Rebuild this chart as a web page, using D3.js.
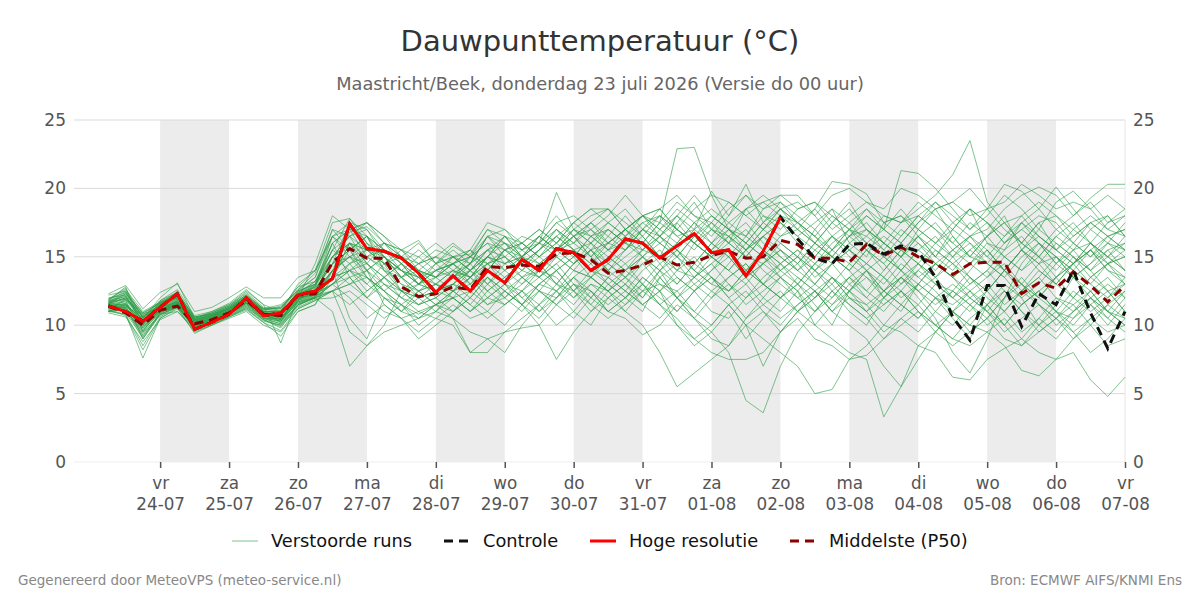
<!DOCTYPE html>
<html><head><meta charset="utf-8">
<script src="https://cdn.jsdelivr.net/npm/d3@7"></script>
<style>
body{margin:0;background:#fff;}
svg{display:block;font-family:"DejaVu Sans",sans-serif;}
</style></head><body>
<svg id="chart" width="1200" height="600"></svg>
<script>
// ---------- DATA ----------
const dayLabels = ["vr","za","zo","ma","di","wo","do","vr","za","zo","ma","di","wo","do","vr"];
const dateLabels = ["24-07","25-07","26-07","27-07","28-07","29-07","30-07","31-07","01-08","02-08","03-08","04-08","05-08","06-08","07-08"];
const yTicks = [0,5,10,15,20,25];
const startTime = "2026-07-23T06:00:00Z"; // first forecast step, 6-hourly

const hres = [11.4,11.0,10.3,11.3,12.3,9.7,10.2,10.8,12.0,10.7,
  10.9,12.2,12.5,13.4,17.4,15.6,15.4,14.9,13.8,12.4,
  13.6,12.5,14.0,13.1,14.8,14.0,15.6,15.3,14.0,14.8,
  16.3,16.0,14.9,15.8,16.7,15.3,15.5,13.6,15.4,17.9];

const control = [11.4,11.0,10.3,11.3,12.3,9.7,10.2,10.8,12.0,10.7,
  10.9,12.2,12.5,13.4,17.4,15.6,15.4,14.9,13.8,12.4,
  13.6,12.5,14.0,13.1,14.8,14.0,15.6,15.3,14.0,14.8,
  16.3,16.0,14.9,15.8,16.7,15.3,15.5,13.6,15.4,17.9,
  16.3,14.9,14.5,15.9,16.0,15.2,15.8,15.4,13.5,10.6,
  8.9,12.9,12.9,9.9,12.3,11.5,14.0,10.9,8.3,11.0];

const p50 = [11.4,10.9,10.0,11.1,11.4,10.1,10.4,10.9,11.8,10.8,
  10.7,12.2,12.3,14.6,15.6,14.9,14.9,12.8,12.1,12.3,
  12.8,12.6,14.3,14.2,14.4,14.3,15.2,15.3,14.8,13.8,
  14.0,14.4,15.0,14.4,14.6,15.1,15.4,14.9,15.0,16.2,
  15.9,14.9,14.9,14.6,15.9,15.1,15.7,15.0,14.5,13.7,
  14.5,14.6,14.6,12.3,13.1,12.7,13.9,12.9,11.7,12.9];

const members = [
 [11.8,12.8,9.5,11.5,12.5,10.2,10.6,11.3,12.2,11.0, 10.2,12.5,13.0,15.5,17.8,16.0,15.0,13.5,12.0,12.5, 13.8,14.5,16.5,15.0,14.0,15.5,17.0,16.0,15.0,16.5, 18.0,16.5,15.0,17.5,19.0,17.0,16.0,18.5,17.0,16.0, 15.0,17.0,18.5,16.0,15.0,17.5,18.0,16.5,15.0,17.0, 18.5,16.0,15.5,17.5,16.0,14.5,16.0,17.5,16.5,15.5],
 [11.0,10.8,7.6,10.5,11.2,9.5,10.0,10.5,11.0,10.0, 9.5,11.0,11.5,14.0,10.5,9.0,12.0,11.5,10.0,11.0, 10.5,9.5,9.0,8.0,10.0,11.5,12.5,11.0,10.0,12.0, 13.0,11.5,12.5,10.0,8.5,9.5,11.0,9.0,10.5,12.0, 13.0,11.5,10.0,12.5,14.0,12.0,11.0,13.0,12.0,10.5, 9.0,11.5,13.0,12.0,10.0,11.5,13.5,12.0,10.5,12.0],
 [12.2,12.5,10.5,12.0,13.1,10.5,11.0,11.5,12.5,11.5, 11.0,13.0,14.0,16.5,17.0,17.5,16.0,15.5,14.0,13.5, 15.0,15.2,17.0,16.5,15.5,16.0,19.7,17.0,16.5,17.5, 18.5,17.0,16.5,18.0,17.0,19.8,18.0,20.3,17.5,16.5, 17.0,16.0,17.5,19.0,17.0,16.0,15.0,17.0,18.5,16.5, 15.0,16.5,18.0,15.5,14.5,16.0,15.0,14.0,15.5,16.0],
 [11.5,11.2,10.2,11.0,11.5,10.0,10.4,10.8,11.6,10.6, 10.8,12.0,12.8,13.5,16.0,15.0,14.2,13.0,12.5,13.0, 12.0,13.5,15.0,14.5,15.0,16.5,15.5,14.5,15.5,16.0, 17.0,18.0,17.5,22.9,23.0,19.5,17.0,16.5,18.5,19.0, 17.5,16.0,15.0,16.5,17.0,15.5,14.0,15.5,16.5,15.0, 13.5,12.5,14.0,15.5,17.0,16.0,15.0,13.5,14.5,15.0],
 [11.2,11.8,9.0,10.8,11.0,9.8,10.2,10.7,11.2,10.3, 10.0,11.5,12.0,13.0,14.0,13.5,12.5,11.0,10.5,11.5, 12.0,11.0,12.5,13.5,12.0,13.0,14.0,12.5,11.5,13.0, 12.0,11.0,13.5,12.0,10.5,9.5,8.0,4.5,3.6,7.0, 9.5,11.0,12.5,11.0,10.0,12.0,13.5,12.5,11.0,10.0, 11.5,12.5,11.0,9.5,10.5,12.0,11.5,10.0,11.5,12.5],
 [11.6,12.0,10.8,11.4,12.0,10.4,10.8,11.2,12.0,11.2, 11.5,12.5,13.5,17.0,16.5,14.5,13.0,12.0,11.5,12.0, 13.0,12.5,14.0,13.0,12.5,14.0,13.5,12.0,13.0,12.5, 11.0,10.0,8.0,5.5,6.5,7.5,8.5,10.5,12.0,13.5, 12.5,11.0,12.0,13.5,12.0,11.0,12.5,14.0,13.0,12.5, 14.0,15.5,14.0,12.5,13.5,15.0,14.0,13.0,14.5,13.5],
 [11.3,11.0,9.8,11.1,11.8,9.9,10.3,11.0,11.9,10.9, 10.5,12.0,12.5,14.5,15.5,16.5,14.0,13.0,12.0,11.0, 12.5,13.0,11.5,12.0,13.5,14.5,13.0,14.5,15.5,14.0, 15.0,16.0,14.5,13.0,14.5,16.0,15.0,13.5,12.0,11.0, 12.5,10.0,9.0,8.0,7.5,3.3,5.5,7.5,9.5,11.0, 10.0,11.5,12.5,11.0,9.5,10.5,12.0,13.5,12.5,11.0],
 [12.0,12.2,10.0,11.8,12.4,10.6,10.8,11.4,12.4,11.3, 11.2,12.8,13.2,15.0,16.5,15.5,15.0,14.0,13.5,14.0, 14.5,15.0,14.0,15.5,16.0,15.0,16.5,15.5,14.5,15.5, 16.5,15.0,16.0,17.0,16.0,15.0,16.5,17.5,16.0,15.0, 14.0,15.5,16.5,15.0,14.0,13.0,14.5,13.5,12.5,11.0, 10.0,9.5,10.5,9.0,8.0,7.5,8.0,6.0,4.8,6.2],
 [11.0,11.5,10.4,11.0,11.3,10.0,10.4,10.8,11.5,10.5, 10.3,11.6,12.0,14.0,15.0,15.5,14.5,12.5,12.0,12.5, 13.0,14.0,15.5,16.5,15.0,14.5,15.5,16.5,17.5,16.0, 15.5,17.0,16.0,15.0,16.5,18.0,17.0,16.0,17.5,18.5, 17.0,16.0,17.5,18.5,17.0,16.0,17.5,18.0,19.0,17.5, 16.5,17.0,18.5,19.5,20.1,19.5,18.0,19.3,20.3,20.3],
 [11.7,12.4,10.6,11.6,12.2,10.3,10.7,11.2,12.0,11.0, 11.0,12.2,13.0,16.0,17.0,16.5,15.5,14.5,13.0,13.5, 14.0,13.5,15.0,14.0,15.0,16.0,15.5,16.5,17.0,15.5, 16.0,17.5,18.0,16.5,17.0,16.0,17.5,18.5,19.0,18.0, 17.0,18.5,20.5,20.3,19.6,17.5,18.0,17.0,16.0,15.0, 16.5,15.5,14.0,15.5,14.5,13.0,14.5,15.5,14.0,13.5],
 [11.1,10.8,8.5,10.6,11.4,9.7,10.1,10.6,11.3,10.4, 9.8,11.5,12.0,13.0,13.5,14.0,15.0,13.5,12.5,11.5, 12.5,11.5,13.0,12.0,11.0,12.5,11.5,13.0,12.5,11.0, 12.0,13.0,11.5,10.5,9.0,10.0,11.5,10.0,9.0,8.0, 7.0,5.0,5.3,7.5,8.5,10.0,11.5,10.5,12.0,11.0, 9.5,10.5,12.0,13.5,12.0,11.0,12.5,11.5,10.0,11.5],
 [11.9,12.6,11.0,11.7,12.1,10.5,10.9,11.5,12.3,11.2, 11.3,12.4,13.2,15.5,14.5,13.0,14.5,15.0,14.0,13.0, 14.0,13.0,14.5,15.0,13.5,14.0,15.0,14.0,13.5,15.0, 14.0,13.0,14.5,15.5,14.0,13.0,12.5,14.0,15.5,14.5, 13.5,12.5,11.0,12.0,11.5,10.0,9.5,8.5,8.0,6.2, 6.0,7.5,8.3,9.0,10.5,9.5,11.0,12.0,11.0,10.0],
 [11.4,11.3,9.2,10.9,11.6,10.1,10.5,11.0,11.7,10.7, 10.4,11.8,12.6,14.5,17.5,17.0,15.5,14.0,13.0,14.0, 15.0,15.5,17.5,17.0,16.0,15.0,16.0,17.0,18.0,18.5, 17.0,16.0,17.5,19.0,18.0,17.0,18.5,19.5,18.0,17.0, 18.5,19.0,17.5,16.5,18.0,17.0,21.3,21.1,20.0,18.5, 17.0,18.5,17.0,16.0,17.5,18.0,16.5,17.5,18.0,16.5],
 [11.2,11.9,10.8,11.3,11.9,10.3,10.6,11.1,11.9,10.9, 10.7,12.1,12.4,14.0,15.0,14.5,16.0,15.5,16.2,14.5, 15.0,14.0,15.5,16.0,15.5,16.5,15.5,16.0,17.0,16.0, 17.0,18.0,16.5,17.5,16.0,17.0,16.5,15.5,17.0,18.0, 17.5,16.5,18.0,17.0,16.5,18.0,17.5,18.5,19.5,21.0, 23.5,19.0,17.5,16.0,17.5,15.5,14.5,16.0,15.0,14.0],
 [11.6,11.4,9.6,11.0,11.5,9.9,10.3,10.9,11.8,10.7, 10.9,12.0,12.2,12.5,11.5,12.5,13.5,12.0,11.0,10.5, 10.0,8.0,8.0,9.5,10.5,11.5,10.0,11.0,12.5,11.0, 10.5,9.3,10.0,11.5,10.5,12.0,13.0,11.5,12.5,13.5, 12.0,13.0,14.5,13.0,12.0,13.5,12.5,11.5,13.0,12.0, 11.0,12.5,14.0,13.0,12.0,13.5,15.0,14.0,12.5,13.0],
 [11.5,11.7,10.1,11.3,11.7,10.2,10.6,11.0,11.7,10.8, 10.6,11.9,12.3,13.5,14.0,13.0,12.0,11.0,12.5,13.0, 12.5,13.5,12.0,13.0,11.5,10.0,7.5,9.5,11.0,12.5, 13.5,12.0,14.0,15.5,14.0,13.0,14.5,16.0,15.0,13.5, 14.5,16.0,15.0,14.0,15.5,14.5,13.0,14.0,15.5,14.5, 13.0,14.0,15.5,16.5,15.0,14.0,15.5,16.0,14.5,15.0],
 [11.3,11.1,9.9,11.0,11.7,10.0,10.4,10.9,11.6,10.6, 10.2,11.5,12.0,11.0,7.0,8.5,10.0,12.5,11.5,12.0, 11.0,12.5,13.5,12.0,13.0,14.5,13.0,12.5,14.0,13.5, 12.5,14.0,15.0,13.5,12.5,14.0,15.5,14.0,13.0,14.5, 15.5,14.0,13.0,14.5,16.0,15.0,14.0,15.5,14.5,13.5, 14.5,15.5,14.0,13.0,14.5,15.0,13.5,14.5,15.5,14.0],
 [11.8,12.1,10.3,11.6,12.2,10.4,10.8,11.3,12.1,11.1, 11.1,12.6,13.5,16.5,17.5,16.0,14.0,13.5,14.5,15.0, 14.5,15.0,16.0,15.5,14.5,15.5,16.5,17.5,16.5,15.5, 17.0,18.0,17.0,18.5,17.5,16.5,18.0,19.5,18.5,19.5, 19.5,18.0,16.5,17.5,18.5,17.0,16.0,17.5,19.0,18.0, 17.0,18.0,19.5,18.5,17.0,19.0,19.8,18.5,17.0,18.0],
 [10.9,10.6,8.8,10.4,11.0,9.6,10.0,10.6,11.1,10.2, 9.6,11.2,11.8,12.5,13.5,12.0,11.0,10.5,9.5,10.5, 11.5,10.5,11.0,12.5,11.5,10.5,12.0,13.0,11.5,10.5, 11.5,13.0,12.0,11.0,12.5,13.5,12.0,10.5,11.5,12.5, 11.0,10.0,11.5,12.5,11.0,9.5,10.5,11.5,10.0,9.0, 10.5,11.5,10.0,8.5,9.5,10.5,9.0,10.0,8.5,9.0],
 [11.6,11.9,10.6,11.5,12.0,10.4,10.7,11.2,12.0,11.0, 10.8,12.2,12.8,15.0,16.0,15.5,14.5,13.5,12.5,13.5, 14.5,13.0,14.0,15.5,14.5,13.5,15.0,14.0,15.5,14.5, 13.5,15.0,14.0,12.0,10.5,9.0,8.5,10.0,7.0,9.5, 11.0,12.5,11.0,12.5,13.5,12.0,13.0,14.5,13.5,12.0, 13.5,12.0,11.0,12.5,14.0,13.0,12.0,13.5,14.5,13.0],
 [11.3,11.4,10.5,11.2,11.6,10.1,10.5,11.0,11.8,10.8, 10.6,11.9,12.5,14.0,16.8,17.2,16.0,14.5,13.5,13.0, 14.0,15.0,14.5,13.5,14.5,15.5,17.0,15.5,16.0,17.0, 16.0,17.0,18.5,17.0,16.0,15.0,16.0,17.0,15.5,14.5, 15.5,14.5,16.0,17.0,15.5,14.0,15.5,16.5,15.0,14.0, 15.5,16.5,15.0,14.0,15.5,17.0,16.0,15.0,16.0,15.0],
 [11.7,12.3,10.9,11.6,12.1,10.5,10.8,11.3,12.1,11.1, 11.4,12.5,13.0,14.5,15.0,14.0,13.0,12.0,13.0,14.0, 13.5,14.5,13.0,14.0,15.0,14.0,13.0,14.5,15.5,14.0, 13.0,14.5,15.5,14.0,13.5,15.0,14.0,13.0,14.5,15.5, 14.0,13.0,12.0,13.5,12.5,11.5,12.5,11.0,10.0,9.0, 8.5,9.5,8.5,6.7,6.3,7.5,9.0,10.5,9.5,10.0],
 [11.0,11.2,9.4,10.8,11.3,9.9,10.3,10.8,11.4,10.5, 10.1,11.4,12.1,13.5,15.5,13.5,12.5,11.5,10.8,11.5, 12.0,12.5,11.5,12.5,13.5,12.5,12.0,13.5,14.5,13.0, 12.0,13.5,12.5,14.0,15.0,13.5,12.5,13.5,14.5,13.5, 12.5,14.0,15.0,14.0,12.5,14.0,15.5,14.5,13.5,15.0, 16.0,14.5,13.5,12.0,13.0,14.5,13.5,12.5,11.0,12.5],
 [11.4,11.6,10.2,11.2,11.8,10.2,10.5,11.0,11.8,10.8, 10.7,12.0,12.3,13.0,14.5,15.0,14.0,12.5,13.5,12.5, 13.5,14.0,12.5,11.5,12.5,13.5,14.5,13.0,12.0,13.5, 14.5,13.0,11.5,12.5,11.0,12.5,11.5,10.0,11.0,9.5, 10.5,9.0,8.5,7.5,7.8,9.0,10.5,9.5,11.0,12.5, 11.5,10.5,12.0,13.0,11.5,10.5,11.5,12.5,11.0,10.5],
 [11.6,12.0,10.3,11.5,12.1,10.3,10.7,11.2,12.0,11.0, 11.0,12.3,13.2,16.0,17.0,15.0,15.5,15.0,16.0,14.5, 15.5,14.5,16.5,17.0,15.5,16.5,18.0,16.5,17.5,18.5, 17.5,16.5,18.0,17.0,18.5,19.5,19.0,18.0,19.0,19.5, 18.5,19.0,18.0,17.0,18.5,17.5,16.5,18.0,17.0,16.0, 17.5,16.5,17.5,18.0,16.5,15.5,16.5,17.5,16.5,17.0],
 [11.1,11.3,9.7,10.9,11.4,9.8,10.2,10.7,11.4,10.4, 10.0,11.3,11.9,12.0,12.5,11.5,10.5,11.5,12.5,11.5, 11.0,12.0,13.5,12.5,11.5,13.0,14.0,12.5,13.5,14.5, 13.5,12.5,14.0,15.0,13.5,12.5,13.5,14.5,13.0,12.0, 13.0,14.5,13.5,12.5,14.0,15.0,14.0,12.5,13.5,14.5, 13.5,12.5,14.0,15.5,14.0,13.0,14.5,15.5,14.0,13.0],
 [11.5,11.5,10.0,11.3,11.7,10.2,10.6,11.1,11.9,10.9, 10.8,12.1,12.6,14.5,16.0,14.5,13.5,14.5,13.0,12.5, 13.5,14.5,15.5,14.0,13.0,14.0,15.5,17.0,16.0,14.5, 15.5,16.5,15.0,16.0,17.5,16.0,15.0,16.5,15.5,14.0, 15.0,13.5,14.5,15.5,14.0,12.5,13.5,12.0,10.5,8.0, 6.5,9.0,12.0,14.5,16.0,15.0,13.5,14.5,16.0,15.5],
 [11.9,12.7,10.5,11.8,12.6,10.7,11.0,11.6,12.6,11.5, 8.7,12.0,14.5,18.0,17.0,17.5,16.5,15.0,14.5,15.5, 15.0,14.0,15.0,16.5,16.0,15.0,16.0,17.5,18.5,17.5, 16.5,18.0,17.0,16.0,17.5,18.5,17.5,16.5,18.0,17.5, 16.5,17.5,18.5,17.5,16.0,17.0,18.5,17.0,16.0,17.5, 18.5,17.5,16.0,17.5,18.5,20.1,18.5,17.0,16.0,17.5],
 [11.2,11.0,9.3,10.7,11.5,9.9,10.3,10.9,11.6,10.6, 10.3,11.7,12.2,14.0,13.0,12.0,13.0,12.5,12.0,13.0, 12.5,13.5,14.5,13.0,14.0,13.5,12.5,14.0,13.5,12.5, 14.0,15.0,13.5,12.0,13.0,12.0,13.5,14.5,13.0,12.0, 13.5,12.5,11.5,13.0,14.0,12.5,11.5,13.0,14.5,13.5, 12.0,13.0,11.5,12.5,13.5,12.0,11.0,12.5,13.5,12.0],
 [11.4,10.9,9.1,10.9,11.6,10.0,10.4,10.9,11.7,10.7, 10.4,11.6,12.1,13.0,12.0,10.5,11.5,10.5,11.0,11.5, 10.5,8.0,9.0,9.5,9.8,10.0,11.5,12.5,11.0,12.0, 13.0,12.0,13.5,14.5,13.0,14.0,15.0,13.5,14.5,15.5, 14.5,13.0,14.5,15.5,14.5,13.5,15.0,16.0,14.5,13.5, 14.5,16.0,15.0,14.0,15.0,16.5,15.5,14.0,15.0,16.0],
 [12.3,12.9,11.2,12.4,13.0,11.0,11.3,12.0,12.8,12.0, 12.0,13.5,14.0,16.5,15.5,16.5,15.5,14.5,15.5,14.5, 15.8,15.0,16.5,15.5,16.5,16.0,17.5,18.0,17.0,18.0, 19.5,18.0,18.5,19.5,18.0,17.5,19.0,18.0,17.0,18.5, 19.0,18.0,19.5,20.0,19.0,18.5,20.0,19.5,18.5,19.0, 20.0,18.5,19.0,20.3,19.5,18.5,19.0,18.5,19.5,18.5],
 [11.0,11.1,9.5,10.8,11.3,9.8,10.2,10.7,11.3,10.4, 9.9,11.2,11.8,12.5,13.0,14.0,12.5,11.5,10.5,11.5, 12.5,11.5,10.5,11.5,12.5,11.0,12.0,13.5,12.0,11.0, 12.0,13.5,12.5,11.0,12.5,13.5,12.0,13.0,11.5,10.5, 11.5,12.5,11.0,10.0,9.0,7.0,5.5,8.5,9.5,11.0, 12.5,11.5,10.0,11.5,12.5,11.0,10.0,11.5,12.5,11.0],
 [11.6,12.2,10.7,11.4,11.9,10.4,10.7,11.2,12.0,11.0, 10.9,12.3,12.9,15.5,16.5,17.0,15.0,14.0,13.0,14.5, 13.5,15.0,16.0,14.5,15.0,16.0,15.0,16.5,15.0,16.0, 17.0,15.5,16.5,15.5,14.5,16.0,17.0,15.5,16.5,17.5, 16.0,15.0,16.5,15.5,16.5,15.5,17.0,16.0,15.0,16.5, 15.0,16.5,17.5,16.0,15.0,16.5,17.5,16.0,15.0,16.5],
 [11.3,11.2,9.0,10.8,11.5,9.6,10.2,10.8,11.6,10.5, 10.1,11.5,12.0,12.5,9.5,8.5,9.5,10.0,10.5,11.0, 12.0,11.0,12.0,11.5,12.5,11.5,13.0,12.0,13.5,12.5, 11.5,12.5,13.0,12.0,13.5,14.5,13.0,12.0,13.5,14.5, 13.0,12.0,13.5,12.5,11.5,12.5,14.0,13.0,12.0,11.5, 12.5,11.0,10.0,11.5,12.5,11.0,10.5,12.0,11.0,10.0],
 [11.5,11.8,10.4,11.3,11.8,10.3,10.6,11.1,11.9,10.9, 10.7,12.0,12.4,14.0,15.0,16.0,15.0,14.0,13.0,12.5, 13.0,14.5,15.5,15.0,14.0,15.0,14.0,15.0,16.5,15.5, 14.5,15.5,16.5,15.0,14.0,15.5,16.5,15.0,14.5,16.0, 15.0,14.0,15.5,16.5,15.5,14.5,16.0,15.0,14.0,15.5, 16.5,15.0,14.0,15.5,16.5,15.5,14.5,15.5,16.5,15.5],
 [11.2,11.5,10.1,11.1,11.6,10.1,10.5,11.0,11.8,10.8, 10.5,11.8,12.2,13.5,14.5,15.5,16.0,15.0,14.0,13.5, 14.5,15.5,14.5,15.0,16.0,17.0,16.0,15.0,16.5,17.0, 16.0,15.5,17.0,18.0,16.5,15.5,17.0,16.0,15.0,16.5, 17.5,16.5,15.5,17.0,18.0,17.0,16.0,17.5,18.5,19.0, 18.0,18.5,20.3,19.8,18.5,17.0,18.0,19.0,17.5,18.0],
 [11.4,11.0,9.6,11.0,11.6,10.0,10.4,10.9,11.7,10.7, 10.3,11.7,12.1,13.5,14.0,12.5,13.5,12.5,11.5,12.5, 13.0,12.0,13.5,12.5,11.5,13.0,12.5,11.5,13.0,12.0, 11.0,12.5,11.5,10.0,9.0,8.0,7.5,7.5,8.0,9.5, 11.0,12.0,13.5,12.0,11.0,12.5,11.5,10.5,12.0,13.0, 12.0,11.0,12.5,11.0,10.0,9.0,10.5,11.5,10.5,9.5],
 [11.7,12.1,10.5,11.5,12.0,10.4,10.7,11.2,12.0,11.0, 11.0,12.3,12.7,14.5,15.5,14.0,15.0,13.5,14.0,15.0, 14.0,13.5,15.0,16.0,14.5,15.5,16.5,15.5,14.5,16.0, 17.0,18.0,18.5,17.0,16.0,15.0,14.0,15.5,14.0,13.0, 12.0,11.0,12.5,11.5,10.5,9.0,10.0,11.0,9.5,8.5, 9.5,10.5,9.0,8.5,10.0,11.0,9.5,8.0,9.0,10.5],
 [11.3,11.6,10.0,11.1,11.7,10.1,10.5,11.0,11.8,10.8, 10.5,11.9,12.4,15.0,16.0,15.5,14.5,15.5,15.0,14.0, 14.5,13.5,14.5,15.5,16.0,17.0,16.0,17.5,18.5,18.5, 17.0,16.0,17.5,16.5,15.5,17.0,16.0,15.0,16.5,15.5, 14.5,16.0,15.0,14.0,15.5,16.5,15.5,14.5,16.0,17.0, 16.0,15.0,16.5,17.5,16.5,15.5,17.0,18.0,17.0,16.5],
 [11.8,12.5,10.8,11.7,12.3,10.6,10.9,11.4,12.2,11.2, 11.2,12.8,14.0,17.5,17.8,16.5,15.0,14.0,13.5,14.5, 15.0,14.0,15.0,14.5,15.5,14.5,15.5,16.5,15.0,14.0, 15.5,17.0,16.0,15.0,16.5,17.5,16.0,15.0,16.5,17.5, 16.5,15.5,14.5,16.0,17.0,16.0,15.0,16.5,15.5,14.5, 15.5,14.5,13.5,15.0,16.0,15.0,14.0,15.5,14.5,15.5],
 [11.5,12.0,10.6,11.4,12.0,10.3,10.6,11.1,11.9,10.9, 10.8,12.1,12.9,16.5,15.0,13.5,12.5,13.5,14.5,13.5, 12.5,14.0,15.0,16.5,15.0,16.0,17.5,16.5,15.5,17.0, 16.0,15.0,16.5,18.0,19.5,18.0,17.0,16.0,17.5,19.0, 18.0,17.0,15.5,17.0,16.0,15.0,16.5,18.0,17.0,15.5, 16.5,17.5,16.0,17.0,18.0,17.5,16.0,15.0,16.5,17.0],
 [11.1,10.7,8.2,10.5,11.3,9.4,10.0,10.6,11.2,10.2, 9.2,11.0,11.5,13.5,16.0,14.0,11.5,10.5,9.0,10.0, 11.0,12.0,11.0,10.0,11.5,12.5,11.5,10.5,12.0,13.5, 12.5,11.5,10.5,12.0,11.0,10.0,11.5,12.5,11.0,10.0, 11.5,12.5,13.5,12.0,11.0,12.0,13.5,12.5,11.5,12.5, 11.5,10.0,11.0,12.5,11.5,10.0,11.0,12.0,13.0,12.0],
 [11.6,12.3,10.9,11.6,12.3,10.6,10.8,11.3,12.1,11.1, 11.3,12.6,13.8,17.0,15.5,16.5,14.5,14.0,15.0,16.0, 15.0,14.5,16.5,16.0,15.0,16.5,15.5,17.0,16.0,17.5, 16.5,17.5,16.5,15.5,17.0,18.0,17.0,18.5,19.5,18.5, 17.5,18.5,17.0,18.0,19.0,18.0,17.5,19.0,18.0,17.0, 18.5,17.5,16.5,18.0,19.0,18.0,17.0,16.0,17.5,18.5],
 [11.3,11.3,9.8,11.1,11.5,10.0,10.4,10.9,11.7,10.7, 10.4,11.8,12.3,13.0,14.0,14.5,13.5,12.5,13.0,14.0, 14.5,13.5,12.5,13.5,14.5,13.5,14.5,15.5,14.0,13.0, 14.0,15.0,14.0,13.0,14.5,13.5,12.5,14.0,15.0,14.0, 13.0,14.5,15.5,14.5,13.5,12.5,13.5,14.5,13.0,12.0, 13.0,14.0,12.5,11.5,12.5,13.5,12.0,11.0,12.0,13.0],
 [11.9,12.4,10.2,11.7,12.4,10.5,10.9,11.4,12.2,11.2, 11.0,12.4,13.0,15.0,16.5,17.5,16.5,15.5,14.5,15.0, 16.0,15.0,17.0,16.0,15.0,16.0,17.0,16.0,17.5,16.5, 15.5,17.0,18.0,17.0,16.0,17.5,16.5,15.5,17.0,18.5, 17.5,16.5,15.0,16.5,17.5,16.0,15.0,16.5,17.5,16.0, 15.0,14.5,16.0,17.0,16.0,14.5,15.5,17.0,18.0,16.5],
 [11.0,11.4,10.7,11.0,11.4,10.0,10.3,10.8,11.5,10.5, 10.5,11.7,12.0,12.5,13.0,13.5,12.0,11.0,12.0,12.5, 12.0,11.0,12.0,13.0,12.0,11.0,12.5,13.5,12.5,11.5, 12.5,11.5,12.5,13.5,12.5,11.0,10.5,12.0,13.0,12.0, 11.0,12.0,13.0,11.5,10.5,11.5,12.5,11.0,10.0,11.0, 12.0,11.0,9.5,10.5,11.5,10.5,9.5,10.5,11.5,10.5],
 [11.4,11.5,9.9,11.1,11.7,10.1,10.5,11.0,11.8,10.8, 10.6,11.9,12.4,15.0,14.0,15.0,16.0,15.0,14.0,13.5, 14.5,15.5,14.0,15.5,15.0,14.0,15.5,14.5,16.0,15.0, 14.0,15.5,15.0,14.0,16.0,15.0,14.0,15.5,16.5,15.0, 14.0,15.0,16.5,15.5,14.5,16.0,15.0,13.5,14.5,15.5, 14.5,13.5,15.0,16.0,15.0,13.5,14.5,16.0,15.0,14.0],
 [11.7,11.9,10.4,11.5,12.1,10.4,10.7,11.2,12.0,11.0, 11.0,12.3,12.8,16.0,13.5,12.0,13.5,14.5,13.5,12.0, 13.0,14.0,13.0,14.5,13.5,12.5,14.0,15.0,13.5,12.5, 13.5,14.5,13.0,12.5,13.5,14.5,15.5,14.0,13.0,14.0, 15.0,14.0,12.5,13.5,14.5,13.5,12.0,13.0,14.5,13.5, 12.5,13.5,14.5,13.0,12.0,13.5,14.5,13.0,12.0,13.5]
];

// ---------- LAYOUT ----------
const plot = {left: 74, right: 1125, top: 120, bottom: 462};
const svg = d3.select("#chart");

const t0 = new Date(startTime);
const stepMs = 6 * 3600 * 1000;
const timeAt = i => new Date(t0.getTime() + i * stepMs);
const parseTick = s => new Date(Date.UTC(2026, +s.slice(3) - 1, +s.slice(0, 2)));
const tickDates = dateLabels.map(parseTick);

const x = d3.scaleUtc()
  .domain([new Date(Date.UTC(2026, 6, 22, 18)), new Date(Date.UTC(2026, 7, 7, 0))])
  .range([plot.left, plot.right]);
const y = d3.scaleLinear().domain([0, 25]).range([plot.bottom, plot.top]);

// Alternate day shading
const g = svg.append("g");
for (let k = 0; k < tickDates.length - 1; k += 2) {
  g.append("rect")
    .attr("x", x(tickDates[k])).attr("y", plot.top)
    .attr("width", x(tickDates[k + 1]) - x(tickDates[k]))
    .attr("height", plot.bottom - plot.top)
    .attr("fill", "#ececec");
}

// Grid lines
svg.append("g").selectAll("line").data(yTicks).join("line")
  .attr("x1", plot.left).attr("x2", plot.right)
  .attr("y1", d => y(d)).attr("y2", d => y(d))
  .attr("stroke", d => d === 0 ? "#ededed" : "#d9d9d9").attr("stroke-width", 1);

svg.append("line").attr("x1", plot.right).attr("x2", plot.right)
  .attr("y1", plot.top).attr("y2", plot.bottom).attr("stroke", "#e6e6e6");

// Axes
const yLeft = d3.axisLeft(y).tickValues(yTicks).tickSize(0).tickPadding(8);
const yRight = d3.axisRight(y).tickValues(yTicks).tickSize(0).tickPadding(8);
const gl = svg.append("g").attr("transform", `translate(${plot.left},0)`).call(yLeft);
const gr = svg.append("g").attr("transform", `translate(${plot.right},0)`).call(yRight);
[gl, gr].forEach(a => {
  a.select(".domain").remove();
  a.selectAll("text").attr("font-size", 17).attr("fill", "#555").attr("font-family", "DejaVu Sans");
});

const xAxis = d3.axisBottom(x).tickValues(tickDates).tickSize(6).tickFormat(() => "");
const gx = svg.append("g").attr("transform", `translate(0,${plot.bottom})`).call(xAxis);
gx.select(".domain").remove();
gx.selectAll(".tick line").attr("stroke", "#555").attr("stroke-width", 1.5);
gx.selectAll(".tick").each(function (d, i) {
  const t = d3.select(this);
  t.append("text").attr("y", 27).attr("text-anchor", "middle").attr("font-size", 16.8)
    .attr("fill", "#555").attr("font-family", "DejaVu Sans").text(dayLabels[i]);
  t.append("text").attr("y", 48).attr("text-anchor", "middle").attr("font-size", 16.8)
    .attr("fill", "#555").attr("font-family", "DejaVu Sans").text(dateLabels[i]);
});

// Lines
const line = d3.line().x((d, i) => x(timeAt(i))).y(d => y(d));
const lines = svg.append("g");
lines.selectAll("path.m").data(members).join("path").attr("class", "m")
  .attr("d", line).attr("fill", "none")
  .attr("stroke", "#2c9c46").attr("stroke-opacity", 0.6).attr("stroke-width", 1);

lines.append("path").datum(p50).attr("d", line).attr("fill", "none")
  .attr("stroke", "#8b0000").attr("stroke-width", 3).attr("stroke-dasharray", "9,6");
lines.append("path").datum(control).attr("d", line).attr("fill", "none")
  .attr("stroke", "#111").attr("stroke-width", 3).attr("stroke-dasharray", "9,6");
lines.append("path").datum(hres).attr("d", line).attr("fill", "none")
  .attr("stroke", "#ff0000").attr("stroke-width", 3);

// Titles
svg.append("text").attr("x", 600).attr("y", 51).attr("text-anchor", "middle")
  .attr("font-size", 29).attr("fill", "#333").text("Dauwpunttemperatuur (°C)");
svg.append("text").attr("x", 600).attr("y", 90).attr("text-anchor", "middle")
  .attr("font-size", 17.8).attr("fill", "#666").text("Maastricht/Beek, donderdag 23 juli 2026 (Versie do 00 uur)");

// Legend
const legendItems = [
  {label: "Verstoorde runs", x: 232, color: "#2c9c46", op: 0.6, w: 1, dash: null},
  {label: "Controle", x: 444, color: "#111", op: 1, w: 3, dash: "9,6"},
  {label: "Hoge resolutie", x: 590, color: "#ff0000", op: 1, w: 3, dash: null},
  {label: "Middelste (P50)", x: 790, color: "#8b0000", op: 1, w: 3, dash: "9,6"}
];
const lg = svg.append("g");
legendItems.forEach(it => {
  lg.append("line").attr("x1", it.x).attr("x2", it.x + 26).attr("y1", 541).attr("y2", 541)
    .attr("stroke", it.color).attr("stroke-opacity", it.op).attr("stroke-width", it.w)
    .attr("stroke-dasharray", it.dash);
  lg.append("text").attr("x", it.x + 39).attr("y", 547).attr("font-size", 17.8)
    .attr("fill", "#111").text(it.label);
});

// Footer
svg.append("text").attr("x", 18).attr("y", 585).attr("font-size", 13.5).attr("fill", "#888")
  .text("Gegenereerd door MeteoVPS (meteo-service.nl)");
svg.append("text").attr("x", 1182).attr("y", 585).attr("text-anchor", "end").attr("font-size", 13.5).attr("fill", "#888")
  .text("Bron: ECMWF AIFS/KNMI Ens");
</script>
</body></html>
